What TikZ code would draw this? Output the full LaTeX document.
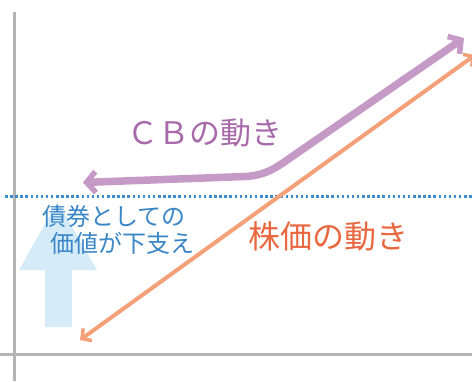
\documentclass[tikz,border=0pt]{standalone}
\usepackage{fontspec}
\newfontfamily\jp{Noto Sans CJK JP}
\usetikzlibrary{arrows.meta}
\definecolor{axisgray}{HTML}{B4B4B4}
\definecolor{dotblue}{HTML}{3D8BCB}
\definecolor{textblue}{HTML}{3A87C8}
\definecolor{lightblue}{HTML}{D5EBF8}
\definecolor{cbpurple}{HTML}{C59AC6}
\definecolor{cbtext}{HTML}{A96AAB}
\definecolor{stockline}{HTML}{F4A17A}
\definecolor{stocktext}{HTML}{E9683F}
\tikzset{
  axis/.style={axisgray, line width=3pt},
  cbtip/.tip={Straight Barb[length=9pt, width=21pt, line width=5.5pt]},
  sttip/.tip={Straight Barb[length=7pt, width=15pt, line width=3.5pt]},
  lbl/.style={inner sep=0pt, font=\jp},
}
\begin{document}
\begin{tikzpicture}[x=1pt, y=-1pt]
\useasboundingbox (0,0) rectangle (472,381);
\fill[white] (0,0) rectangle (472,381);
% axes
\coordinate (ytop) at (14,12);
\coordinate (ybot) at (14,381);
\coordinate (xl) at (0,354);
\coordinate (xr) at (472,354);
\draw[axis] (ytop) -- (ybot);
\draw[axis] (xl) -- (xr);
% dotted level
\coordinate (dl) at (5,196.5);
\coordinate (dr) at (472,196.5);
\draw[dotblue, line width=2.5pt, dash pattern=on 2.5pt off 2.6pt] (dl) -- (dr);
% light blue arrow
\fill[lightblue] (45,327) -- (45,270) -- (19,270) -- (57.5,202) -- (97,270) -- (72,270) -- (72,327) -- cycle;
% stock line
\coordinate (sl) at (80,340);
\coordinate (sr) at (475,55);
\draw[stockline, line width=4pt, sttip-sttip] (sl) -- (sr);
% CB line
\coordinate (cl) at (83,182.5);
\coordinate (cr) at (464,38);
\draw[cbpurple, line width=7.5pt, cbtip-cbtip] (cl) -- (245,176.5) .. controls (265,175.5) and (276,168) .. (290,158) -- (cr);
% labels
\node[lbl, text=cbtext, font=\jp\fontsize{31}{31}\selectfont] (cb) at (205,133) {ＣＢの動き};
\node[lbl, text=stocktext, font=\jp\fontsize{32}{32}\selectfont] (stock) at (328.5,236) {株価の動き};
\node[lbl, text=textblue, font=\jp\fontsize{24}{24}\selectfont, anchor=west] (b1) at (42,216) {債券としての};
\node[lbl, text=textblue, font=\jp\fontsize{24}{24}\selectfont, anchor=west] (b2) at (50,243) {価値が下支え};
\end{tikzpicture}
\end{document}
